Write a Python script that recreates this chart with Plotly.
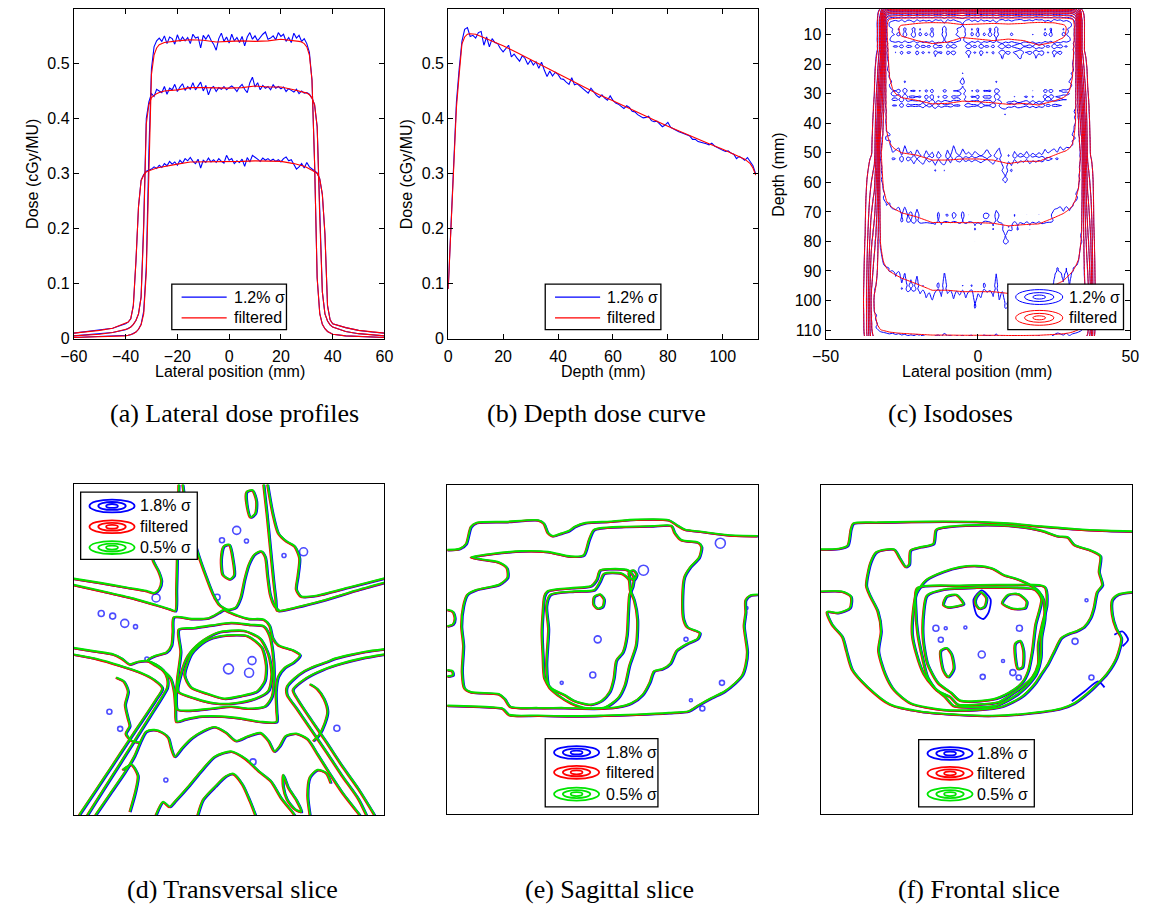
import numpy as np
import plotly.graph_objects as go

W, H = 1157, 913
def px(x): return x / W
def py(y): return 1 - y / H

BLUE, RED, GREEN = "#0000ff", "#ff0000", "#00e400"
SANS = "Liberation Sans, Arial, sans-serif"
SERIF = "Liberation Serif, DejaVu Serif, serif"

# ---------------- (a) lateral dose profiles ----------------
LAT_X_RED = [-60, -50, -45, -40, -39, -38, -37, -36, -35, -34, -33, -32, -31, -30, -29, -28, -27,
             -25, -20, -15, -10, -5, 0, 5, 10, 15, 20, 25,
             27, 28, 29, 30, 31, 32, 33, 34, 35, 36, 37, 38, 39, 40, 45, 50, 60]
LAT_RED_A = [0.002, 0.003, 0.004, 0.005, 0.006, 0.007, 0.009, 0.012, 0.017, 0.025, 0.045, 0.12, 0.33, 0.48, 0.515, 0.528, 0.534,
             0.538, 0.541, 0.543, 0.542, 0.539, 0.540, 0.541, 0.540, 0.541, 0.544, 0.542,
             0.540, 0.539, 0.536, 0.530, 0.515, 0.47, 0.32, 0.11, 0.045, 0.026, 0.018, 0.013, 0.010, 0.008, 0.005, 0.004, 0.002]
LAT_RED_B = [0.005, 0.008, 0.011, 0.016, 0.018, 0.021, 0.026, 0.033, 0.045, 0.075, 0.2, 0.39, 0.425, 0.438, 0.442, 0.445, 0.447,
             0.450, 0.452, 0.456, 0.456, 0.455, 0.455, 0.456, 0.459, 0.457, 0.457, 0.452,
             0.450, 0.449, 0.448, 0.446, 0.443, 0.437, 0.425, 0.385, 0.22, 0.085, 0.045, 0.032, 0.025, 0.021, 0.013, 0.009, 0.005]
LAT_RED_C = [0.010, 0.015, 0.019, 0.027, 0.030, 0.036, 0.06, 0.14, 0.24, 0.287, 0.297, 0.303, 0.305, 0.307, 0.309, 0.310, 0.311,
             0.313, 0.317, 0.321, 0.321, 0.322, 0.322, 0.322, 0.323, 0.323, 0.322, 0.318,
             0.316, 0.315, 0.313, 0.311, 0.309, 0.306, 0.303, 0.300, 0.29, 0.262, 0.19, 0.06, 0.034, 0.027, 0.020, 0.015, 0.010]

LAT_X_BLUE = [-60, -55, -50, -45] + list(range(-40, 41)) + [45, 50, 55, 60]
LAT_BLUE_A = [0.002, 0.003, 0.003, 0.004,
              0.005, 0.006, 0.007, 0.009, 0.012, 0.017, 0.026, 0.050, 0.130, 0.340,
              0.490, 0.530, 0.541, 0.546, 0.540, 0.550, 0.536, 0.548, 0.545, 0.535,
              0.552, 0.540, 0.548, 0.541, 0.547, 0.536, 0.553, 0.546, 0.548, 0.528,
              0.551, 0.544, 0.552, 0.542, 0.535, 0.524, 0.545, 0.555, 0.540, 0.548,
              0.537, 0.553, 0.541, 0.547, 0.538, 0.549, 0.532, 0.548, 0.556, 0.544,
              0.550, 0.541, 0.548, 0.553, 0.557, 0.544, 0.546, 0.550, 0.543, 0.556,
              0.549, 0.553, 0.540, 0.547, 0.538, 0.555, 0.546, 0.551, 0.540, 0.545,
              0.536, 0.520, 0.470, 0.320, 0.110, 0.046, 0.026, 0.018, 0.013, 0.010, 0.008,
              0.005, 0.004, 0.003, 0.002]
LAT_BLUE_B = [0.005, 0.007, 0.008, 0.011,
              0.016, 0.018, 0.021, 0.026, 0.033, 0.045, 0.076, 0.210, 0.400, 0.430,
              0.445, 0.440, 0.453, 0.450, 0.447, 0.458, 0.444, 0.455, 0.452, 0.462,
              0.449, 0.457, 0.463, 0.451, 0.458, 0.453, 0.465, 0.452, 0.460, 0.466,
              0.450, 0.460, 0.443, 0.455, 0.458, 0.449, 0.456, 0.453, 0.458, 0.452,
              0.456, 0.459, 0.455, 0.449, 0.457, 0.462, 0.453, 0.447, 0.465, 0.475,
              0.457, 0.465, 0.452, 0.460, 0.455, 0.458, 0.452, 0.461, 0.455, 0.458,
              0.454, 0.457, 0.449, 0.454, 0.451, 0.448, 0.453, 0.445, 0.450, 0.446,
              0.447, 0.444, 0.437, 0.425, 0.385, 0.220, 0.085, 0.045, 0.032, 0.025, 0.021,
              0.013, 0.009, 0.007, 0.005]
LAT_BLUE_C = [0.010, 0.013, 0.015, 0.019,
              0.027, 0.030, 0.036, 0.060, 0.140, 0.240, 0.288, 0.298, 0.304, 0.306,
              0.308, 0.312, 0.309, 0.315, 0.311, 0.318, 0.314, 0.322, 0.317, 0.321,
              0.315, 0.324, 0.319, 0.327, 0.323, 0.329, 0.322, 0.318, 0.326, 0.310,
              0.324, 0.320, 0.328, 0.321, 0.325, 0.320, 0.327, 0.322, 0.319, 0.333,
              0.324, 0.327, 0.318, 0.323, 0.320, 0.326, 0.313, 0.329, 0.321, 0.333,
              0.330, 0.326, 0.322, 0.328, 0.324, 0.327, 0.323, 0.326, 0.322, 0.325,
              0.321, 0.327, 0.330, 0.323, 0.325, 0.317, 0.308, 0.312, 0.318, 0.310,
              0.320, 0.312, 0.308, 0.305, 0.301, 0.290, 0.262, 0.190, 0.060, 0.034, 0.027,
              0.020, 0.015, 0.012, 0.010]

# ---------------- (b) depth dose ----------------
DEPTH_X_RED = [0, 1, 2, 3, 4, 5, 6, 7, 8, 10, 12, 15, 20, 25, 30, 35, 40, 45, 50, 55, 60, 65, 70, 75,
               80, 85, 90, 95, 100, 105, 108, 110, 111, 112]
DEPTH_RED = [0.09, 0.20, 0.32, 0.42, 0.48, 0.535, 0.548, 0.553, 0.554, 0.553, 0.549, 0.543, 0.532, 0.520,
             0.507, 0.494, 0.481, 0.468, 0.455, 0.443, 0.432, 0.420, 0.408, 0.397, 0.386, 0.375, 0.364,
             0.354, 0.344, 0.333, 0.326, 0.318, 0.310, 0.297]
DEPTH_X_BLUE = list(range(0, 113))
DEPTH_BLUE = [0.090, 0.210, 0.330, 0.430, 0.490, 0.540, 0.562, 0.565, 0.549, 0.551,
              0.546, 0.556, 0.558, 0.533, 0.548, 0.530, 0.545, 0.538, 0.536, 0.527,
              0.521, 0.528, 0.533, 0.512, 0.517, 0.510, 0.504, 0.514, 0.509, 0.498,
              0.506, 0.497, 0.503, 0.491, 0.502, 0.488, 0.476, 0.486, 0.477, 0.484,
              0.480, 0.472, 0.471, 0.466, 0.462, 0.474, 0.461, 0.463, 0.459, 0.455,
              0.451, 0.446, 0.455, 0.448, 0.442, 0.438, 0.443, 0.437, 0.433, 0.441,
              0.433, 0.428, 0.426, 0.422, 0.418, 0.423, 0.420, 0.413, 0.412, 0.407,
              0.404, 0.401, 0.402, 0.404, 0.396, 0.394, 0.395, 0.390, 0.385, 0.388,
              0.393, 0.384, 0.381, 0.378, 0.376, 0.374, 0.372, 0.370, 0.368, 0.362,
              0.362, 0.358, 0.357, 0.355, 0.354, 0.352, 0.355, 0.350, 0.347, 0.345,
              0.342, 0.340, 0.341, 0.337, 0.335, 0.327, 0.331, 0.328, 0.324, 0.329,
              0.322, 0.314, 0.299]

# depths (mm) at which the three lateral profiles were taken
PROFILE_DEPTHS = [15, 50, 100]
ISO_LEVELS = dict(start=0.05, end=0.55, size=0.05)

# ---------------- (d) transversal slice contours (slice grid units) ----------------
D_LINES = [
    [(18,298),(100,311),(180,325),(240,335),(265,342),(280,330),(287,305),(278,275),(262,245),(255,215),(250,180)],
    [(18,317),(100,335),(200,358),(270,378),(310,390),(330,396),(333,330),(335,250),(337,150),(339,60),(340,12)],
    [(352,12),(362,80),(378,150),(400,225),(425,295),(445,345),(465,378),(490,392),(515,385),(530,355),(542,300),
     (555,255),(572,225),(592,215),(605,232),(612,290),(620,345),(633,380),(648,396)],
    [(600,12),(610,100),(620,200),(630,300),(637,360),(642,395),(700,385),(780,365),(880,335),(970,310)],
    [(612,12),(628,100),(645,160),(670,185),(695,200),(710,235),(705,290),(700,330),(715,352),(760,350),(860,325),(970,297)],
    [(18,508),(80,518),(140,528),(165,540),(190,558),(215,550),(245,548),(270,558),(292,575),(305,600),(305,628),
     (290,655),(252,715),(204,790),(158,862),(111,935),(76,990),(60,1015)],
    [(18,528),(90,542),(160,562),(220,582),(265,605),(290,630),(270,665),(230,725),(186,790),(138,862),(89,935),(35,1015)],
    [(85,1015),(130,950),(175,885),(205,835),(222,795),(240,762),(265,757),(290,765),(308,780),(318,815),(328,838),
     (350,812),(380,782),(415,760),(450,748),(485,765),(515,790),(550,777),(590,766),(615,790),(633,822),(650,805),
     (668,775),(700,768),(735,785),(765,830),(800,885),(840,945),(895,1015)],
    [(970,512),(910,520),(860,530),(820,540),(790,552),(760,562),(725,578),(695,600),(672,625),(672,650),(700,690),
     (745,755),(790,820),(840,895),(890,965),(915,1015)],
    [(970,528),(900,540),(840,555),(780,575),(730,600),(690,635),(705,665),(745,725),(790,790),(840,865),(890,935),(940,1015)],
    [(325,415),(380,420),(430,418),(462,402),(478,393),(495,400),(520,410),(555,420),(600,422),(618,440),(628,478),
     (645,500),(690,515),(712,530),(692,552),(665,568),(645,595),(638,640),(640,700),(640,732),(590,732),(530,722),
     (470,716),(410,716),(360,725),(333,732),(330,690),(326,640),(315,600),(290,575),(262,557),(245,545),(268,532),
     (302,522),(318,500),(322,460),(325,415)],
    [(340,452),(346,520),(336,600),(332,655),(336,695),(380,698),(440,692),(500,686),(555,692),(605,685),(626,655),
     (632,590),(628,520),(618,470),(600,442),(560,438),(500,432),(440,440),(385,448),(340,452)],
    [(338,640),(346,590),(368,532),(405,492),(458,462),(540,456),(590,480),(615,528),(625,588),(615,638),(575,662),
     (510,676),(450,676),(392,662),(338,640)],
    [(358,590),(380,525),(420,488),(470,472),(550,472),(594,506),(608,560),(604,608),(580,640),(530,654),(480,662),
     (430,648),(378,628),(358,590)],
    [(270,1015),(292,975),(312,990),(330,972),(370,928),(410,880),(450,838),(500,822),(545,845),(585,882),(622,912),
     (655,965),(690,1008),(695,1015)],
    [(398,1015),(415,968),(452,928),(485,897),(507,890),(535,922),(558,972),(575,1015)],
    [(660,893),(676,932),(702,972),(716,1005),(697,998),(672,968),(660,928),(660,893)],
    [(742,1015),(735,955),(742,900),(765,878),(792,888),(806,918)],
    [(168,878),(195,862),(215,895),(207,945),(190,1005)],
    [(548,35),(566,30),(578,62),(575,100),(560,112),(550,82),(548,35)],
    [(478,200),(495,195),(506,240),(510,288),(496,300),(475,286),(470,240),(478,200)],
    [(148,598),(172,610),(185,640),(176,680),(184,720),(190,745),(178,768),(196,790),(222,795)],
    [(742,618),(765,633),(785,662),(796,700),(788,735),(770,772),(752,790)],
]
D_ISLANDS_X = [100, 135, 172, 205, 268, 490, 553, 562, 515, 470, 125, 158, 822, 565, 298, 660, 720, 545, 240, 455]
D_ISLANDS_Y = [402, 410, 432, 442, 355, 570, 582, 545, 150, 180, 700, 752, 750, 852, 907, 226, 215, 182, 540, 353]
D_ISLANDS_S = [6, 6, 8, 4, 8, 10, 9, 8, 8, 5, 5, 5, 6, 6, 4, 4, 8, 4, 4, 6]

# ---------------- (e) sagittal slice contours ----------------
E_LINES = [
    [(22,210),(60,207),(80,192),(95,140),(112,128),(200,125),(300,120),(318,130),(330,158),(345,168),(372,160),
     (395,152),(412,140),(445,128),(520,124),(600,118),(700,120),(725,135),(748,148),(800,155),(880,165),(972,168)],
    [(22,683),(100,685),(160,688),(192,692),(212,711),(300,713),(400,715),(500,713),(600,710),(700,705),(760,700),
     (790,682),(830,660),(870,640),(902,615),(925,590),(935,560),(940,520),(935,480),(930,440),(935,400),(935,362),
     (950,348),(972,346)],
    [(95,232),(160,222),(250,214),(330,216),(400,230),(440,226),(456,180),(470,150),(490,144),(560,140),(650,138),
     (708,137),(718,158),(738,180),(790,188),(800,200),(793,233),(766,262),(748,292),(742,350),(745,420),(757,445),
     (795,462),(788,480),(758,494),(724,516),(705,555),(680,572),(655,578),(642,612),(620,650),(585,676),(540,688),
     (470,692),(380,690),(300,690),(215,686),(198,662),(180,648),(95,642),(75,630),(68,580),(72,500),(66,440),
     (72,380),(84,346),(110,332),(182,315),(207,294),(205,265),(180,248),(135,240),(95,232)],
    [(330,335),(400,326),(462,320),(480,300),(490,272),(520,268),(575,272),(592,290),(590,320),(580,345),(576,400),
     (572,470),(560,520),(540,545),(532,600),(520,640),(495,668),(460,680),(410,668),(380,650),(340,630),(320,600),
     (315,530),(312,460),(315,400),(320,350),(330,335)],
    [(338,346),(410,336),(472,332),(490,306),(502,282),(556,282),(578,300),(582,332),(594,362),(604,420),(600,500),
     (580,560),(566,620),(545,660),(505,688),(445,690),(402,676),(362,652),(333,625),(326,560),(332,450),(326,380),
     (338,346)],
    [(472,352),(490,345),(502,360),(498,382),(482,388),(470,375),(472,352)],
    [(22,392),(40,398),(46,418),(40,436),(22,442)],
    [(22,575),(38,578),(40,590),(22,594)],
    [(578,278),(592,272),(602,285),(595,300),(582,296),(578,278)],
]
E_ISLANDS_X = [620, 855, 480, 465, 750, 370, 860, 800, 765, 935]
E_ISLANDS_Y = [270, 188, 480, 588, 480, 612, 612, 690, 665, 385]
E_ISLANDS_S = [10, 10, 7, 6, 4, 3, 5, 5, 3, 3]

# ---------------- (f) frontal slice contours ----------------
F_LINES = [
    [(25,212),(80,210),(108,200),(118,150),(125,133),(200,130),(300,128),(400,127),(500,128),(600,133),(700,142),
     (800,150),(900,155),(977,157)],
    [(25,340),(90,340),(118,355),(115,390),(78,405),(45,402),(60,440),(92,478),(104,520),(122,578),(168,630),
     (238,684),(330,705),(450,715),(550,718),(650,712),(760,696),(800,680),(840,650),(870,622),(900,590),(930,540),
     (944,482),(928,452),(916,410),(916,366),(934,349),(977,342)],
    [(165,322),(178,252),(196,220),(250,212),(268,240),(285,265),(296,258),(300,215),(330,205),(370,195),(378,152),
     (400,145),(500,138),(600,140),(700,155),(750,172),(780,175),(800,198),(850,215),(880,232),(876,280),(886,320),
     (870,342),(860,390),(850,420),(830,448),(808,460),(780,470),(760,482),(740,520),(720,560),(700,590),(680,620),
     (640,660),(580,690),(500,700),(400,700),(300,680),(250,640),(222,590),(202,520),(210,460),(200,400),(176,352),
     (165,322)],
    [(305,470),(308,400),(318,345),(348,305),(400,280),(450,266),(500,262),(550,270),(585,290),(625,302),(665,320),
     (692,340),(706,365),(710,420),(700,480),(698,540),(684,590),(660,622),(630,650),(598,670),(558,688),(480,692),
     (432,688),(405,660),(370,630),(340,590),(318,530),(305,470)],
    [(320,330),(450,322),(600,320),(710,326),(716,380),(702,440),(690,500),(690,560),(672,600),(640,630),(600,658),
     (570,676),(500,684),(445,684),(420,660),(380,640),(352,600),(336,540),(322,470),(316,400),(320,330)],
    [(350,352),(400,334),(500,328),(600,328),(680,334),(700,362),(682,440),(672,520),(660,580),(640,618),(600,648),
     (550,668),(452,672),(424,648),(384,618),(352,560),(338,480),(340,400),(350,352)],
    [(500,358),(515,342),(532,360),(526,386),(510,392),(498,376),(500,358)],
    [(400,380),(410,355),(440,350),(462,378),(440,385),(415,388),(400,380)],
    [(580,375),(598,350),(630,348),(655,370),(650,390),(612,392),(580,375)],
    [(392,520),(410,512),(425,530),(432,575),(415,600),(400,580),(392,520)],
    [(620,498),(635,490),(645,520),(642,570),(628,575),(620,540),(620,498)],
]
F_BLUE_ONLY = [
    [(490,362),(515,335),(542,362),(536,402),(520,422),(500,410),(490,362)],
    [(920,470),(945,460),(962,485),(945,505)],
    [(790,672),(830,642),(870,612),(890,630)],
]
F_ISLANDS_X = [375, 405, 465, 630, 390, 515, 518, 580, 610, 628, 850, 835, 800]
F_ISLANDS_Y = [450, 450, 448, 450, 485, 530, 598, 550, 585, 600, 600, 365, 490]
F_ISLANDS_S = [6, 3, 3, 6, 5, 7, 5, 3, 6, 5, 5, 3, 6]

CAPTIONS = ["(a) Lateral dose profiles", "(b) Depth dose curve", "(c) Isodoses",
            "(d) Transversal slice", "(e) Sagittal slice", "(f) Frontal slice"]

# ---------------- figure ----------------
fig = go.Figure()

BOXES = [(61, 9, 378, 342), (443, 9, 759, 342), (828, 9, 1139, 342),
         (61, 489, 378, 823), (442, 490, 759, 822), (823, 490, 1141, 822)]
SLICE_RANGES = {4: ([18, 970], [1015, 12]), 5: ([22, 972], [1012, 14]), 6: ([25, 977], [1017, 17])}

layout = {}
for i, (l, t, r, b) in enumerate(BOXES, start=1):
    xa = "xaxis" if i == 1 else f"xaxis{i}"
    ya = "yaxis" if i == 1 else f"yaxis{i}"
    common = dict(showline=True, linecolor="black", linewidth=1, showgrid=False, zeroline=False,
                  tickfont=dict(family=SANS, size=16, color="black"))
    if i <= 3:
        common.update(mirror="ticks", ticks="inside", ticklen=5, tickcolor="black", tickwidth=1)
    else:
        common.update(mirror=True, ticks="", showticklabels=False)
    layout[xa] = dict(domain=[px(l), px(r)], anchor=f"y{i}" if i > 1 else "y", **common)
    layout[ya] = dict(domain=[py(b), py(t)], anchor=f"x{i}" if i > 1 else "x", **common)

dose_ticks = [0, 0.1, 0.2, 0.3, 0.4, 0.5]
dose_text = ["0", "0.1", "0.2", "0.3", "0.4", "0.5"]
layout["xaxis"].update(range=[-60, 60], tickvals=[-60, -40, -20, 0, 20, 40, 60],
                       ticktext=["\u221260", "\u221240", "\u221220", "0", "20", "40", "60"], ticklabelstandoff=3)
layout["yaxis"].update(range=[0, 0.599], tickvals=dose_ticks, ticktext=dose_text)
layout["xaxis2"].update(range=[0, 112.8], tickvals=[0, 20, 40, 60, 80, 100], ticklabelstandoff=3)
layout["yaxis2"].update(range=[0, 0.599], tickvals=dose_ticks, ticktext=dose_text)
layout["xaxis3"].update(range=[-50, 50], tickvals=[-50, 0, 50], ticktext=["\u221250", "0", "50"], ticklabelstandoff=3)
layout["yaxis3"].update(range=[112.9, 1.28], tickvals=list(range(10, 111, 10)))

# slice panels: base axes carry the blue layer, overlay axes carry red (7-9) and green (10-12);
# the overlays are displaced by a fraction of a pixel so the three contour colours peek out
OFFSETS = {"blue": (0.7, 0.7), "red": (-0.6, 0.5), "green": (0.0, 0.0)}
def shifted(k, dxp, dyp):
    (x0, x1), (y0, y1) = SLICE_RANGES[k]
    l, t, r, b = BOXES[k - 1]
    ux = (x1 - x0) / (r - l); uy = (y0 - y1) / (b - t)
    return [x0 - dxp * ux, x1 - dxp * ux], [y0 - dyp * uy, y1 - dyp * uy]

for k in (4, 5, 6):
    xr, yr = shifted(k, *OFFSETS["blue"])
    layout[f"xaxis{k}"].update(range=xr); layout[f"yaxis{k}"].update(range=yr)
    for n, key in ((k + 3, "red"), (k + 6, "green")):
        xr, yr = shifted(k, *OFFSETS[key])
        layout[f"xaxis{n}"] = dict(overlaying=f"x{k}", anchor=f"y{n}", range=xr, visible=False)
        layout[f"yaxis{n}"] = dict(overlaying=f"y{k}", anchor=f"x{n}", range=yr, visible=False)

# (a)
for prof in (LAT_BLUE_A, LAT_BLUE_B, LAT_BLUE_C):
    fig.add_trace(go.Scatter(x=LAT_X_BLUE, y=prof, mode="lines", line=dict(color=BLUE, width=1.1),
                             xaxis="x", yaxis="y", showlegend=False, hoverinfo="skip"))
for prof in (LAT_RED_A, LAT_RED_B, LAT_RED_C):
    fig.add_trace(go.Scatter(x=LAT_X_RED, y=prof, mode="lines", line=dict(color=RED, width=1.1),
                             xaxis="x", yaxis="y", showlegend=False, hoverinfo="skip"))
# (b)
fig.add_trace(go.Scatter(x=DEPTH_X_BLUE, y=DEPTH_BLUE, mode="lines", line=dict(color=BLUE, width=1.1),
                         xaxis="x2", yaxis="y2", showlegend=False, hoverinfo="skip"))
fig.add_trace(go.Scatter(x=DEPTH_X_RED, y=DEPTH_RED, mode="lines", line=dict(color=RED, width=1.1),
                         xaxis="x2", yaxis="y2", showlegend=False, hoverinfo="skip"))

# (c) isodose maps built from the depth curve and the three lateral profiles
depth = np.array(DEPTH_X_BLUE, dtype=float)
xg = np.array(LAT_X_BLUE, dtype=float)
pdd_red = np.interp(depth, DEPTH_X_RED, DEPTH_RED)
pdd_blue = np.array(DEPTH_BLUE)
reds = [LAT_RED_A, LAT_RED_B, LAT_RED_C]
centers = [np.interp(0, LAT_X_RED, p) for p in reds]
shape_red = [np.interp(xg, LAT_X_RED, p) / c for p, c in zip(reds, centers)]
shape_blue = [np.array(p) / c for p, c in zip([LAT_BLUE_A, LAT_BLUE_B, LAT_BLUE_C], centers)]

def dose_map(pdd, shapes):
    S = np.array(shapes)
    grid = np.empty((len(depth), len(xg)))
    for j in range(len(xg)):
        grid[:, j] = np.interp(depth, PROFILE_DEPTHS, S[:, j])
    return pdd[:, None] * grid

for z, col in ((dose_map(pdd_blue, shape_blue), BLUE), (dose_map(pdd_red, shape_red), RED)):
    fig.add_trace(go.Contour(x=xg, y=depth, z=z, xaxis="x3", yaxis="y3", autocontour=False,
                             contours=dict(coloring="lines", **ISO_LEVELS), line=dict(width=1, smoothing=1.3),
                             colorscale=[[0, col], [1, col]], showscale=False, hoverinfo="skip"))

def joined(lines):
    xs, ys = [], []
    for ln in lines:
        for a, b in ln:
            xs.append(a); ys.append(b)
        xs.append(None); ys.append(None)
    return xs, ys

def add_slice(k, lines, blue_only=None, isl=None):
    xs, ys = joined(lines)
    spline = dict(shape="spline", smoothing=0.7)
    ax, ay = f"x{k}", f"y{k}"
    if blue_only:
        bx, by = joined(blue_only)
        fig.add_trace(go.Scatter(x=bx, y=by, mode="lines", line=dict(color=BLUE, width=1.8, **spline),
                                 xaxis=ax, yaxis=ay, showlegend=False, hoverinfo="skip"))
    if isl:
        fig.add_trace(go.Scatter(x=isl[0], y=isl[1], mode="markers",
                                 marker=dict(symbol="circle-open", size=isl[2], color=BLUE, line=dict(width=1.6)),
                                 xaxis=ax, yaxis=ay, showlegend=False, hoverinfo="skip"))
    for col, wd, n in ((BLUE, 2.0, k), (RED, 2.0, k + 3), (GREEN, 1.9, k + 6)):
        fig.add_trace(go.Scatter(x=xs, y=ys, mode="lines", line=dict(color=col, width=wd, **spline),
                                 xaxis=f"x{n}", yaxis=f"y{n}", showlegend=False, hoverinfo="skip"))

add_slice(4, D_LINES, isl=(D_ISLANDS_X, D_ISLANDS_Y, D_ISLANDS_S))
add_slice(5, E_LINES, isl=(E_ISLANDS_X, E_ISLANDS_Y, E_ISLANDS_S))
add_slice(6, F_LINES, blue_only=F_BLUE_ONLY, isl=(F_ISLANDS_X, F_ISLANDS_Y, F_ISLANDS_S))

# ---------------- legends, labels, captions ----------------
shapes, annots = [], []

def box(l, t, r, b):
    shapes.append(dict(type="rect", xref="paper", yref="paper", x0=px(l), x1=px(r), y0=py(b), y1=py(t),
                       fillcolor="white", line=dict(color="black", width=1.3), layer="above"))

def text(x, y, s, size=16, anchor="left", family=SANS, angle=0):
    annots.append(dict(x=px(x), y=py(y), xref="paper", yref="paper", text=s, showarrow=False,
                       xanchor=anchor, yanchor="middle", textangle=angle,
                       font=dict(family=family, size=size, color="black")))

def line_entry(x0, x1, y, col):
    shapes.append(dict(type="line", xref="paper", yref="paper", x0=px(x0), x1=px(x1), y0=py(y), y1=py(y),
                       line=dict(color=col, width=1.2), layer="above"))

def ellipse_entry(cx, cy, col, sizes, wd):
    for w_, h_ in sizes:
        shapes.append(dict(type="circle", xref="paper", yref="paper", x0=px(cx - w_ / 2), x1=px(cx + w_ / 2),
                           y0=py(cy + h_ / 2), y1=py(cy - h_ / 2), line=dict(color=col, width=wd), layer="above"))

for (l, r, x0, x1, tx) in ((161, 278, 171, 217, 222), (542, 660, 552, 598, 603)):
    box(l, 287, r, 333)
    line_entry(x0, x1, 300, BLUE); text(tx, 300, "1.2% \u03c3")
    line_entry(x0, x1, 321, RED); text(tx, 321, "filtered")
box(1014, 287, 1132, 333)
small = [(48, 15), (30, 9), (13, 4)]
ellipse_entry(1046, 300, BLUE, small, 1); text(1074, 300, "1.2% \u03c3")
ellipse_entry(1046, 321, RED, small, 1); text(1074, 321, "filtered")
big = [(46, 13), (28, 8), (12, 4)]
for (l, t, r, b, icx, tx, rows) in ((68, 497, 187, 565, 100, 127, (511, 532, 553)),
                                    (542, 746, 657, 815, 574, 602, (760, 780, 802)),
                                    (923, 747, 1041, 815, 955, 980, (761, 781, 802))):
    box(l, t, r, b)
    for yy, col, lab in zip(rows, (BLUE, RED, GREEN), ("1.8% \u03c3", "filtered", "0.5% \u03c3")):
        ellipse_entry(icx, yy, col, big, 1.8)
        text(tx, yy, lab)

text(220, 375, "Lateral position (mm)", anchor="center")
text(19, 176, "Dose (cGy/MU)", anchor="center", angle=-90)
text(601, 375, "Depth (mm)", anchor="center")
text(400, 176, "Dose (cGy/MU)", anchor="center", angle=-90)
text(983, 375, "Lateral position (mm)", anchor="center")
text(780, 176, "Depth (mm)", anchor="center", angle=-90)

for (cx, cy), cap in zip(((225, 418), (594, 418), (956, 418), (223, 898), (608, 898), (985, 898)), CAPTIONS):
    text(cx, cy, cap, size=26, anchor="center", family=SERIF)

fig.update_layout(width=W, height=H, margin=dict(l=0, r=0, t=0, b=0), paper_bgcolor="white",
                  plot_bgcolor="white", showlegend=False, shapes=shapes, annotations=annots, **layout)
fig.write_html("out.html")
